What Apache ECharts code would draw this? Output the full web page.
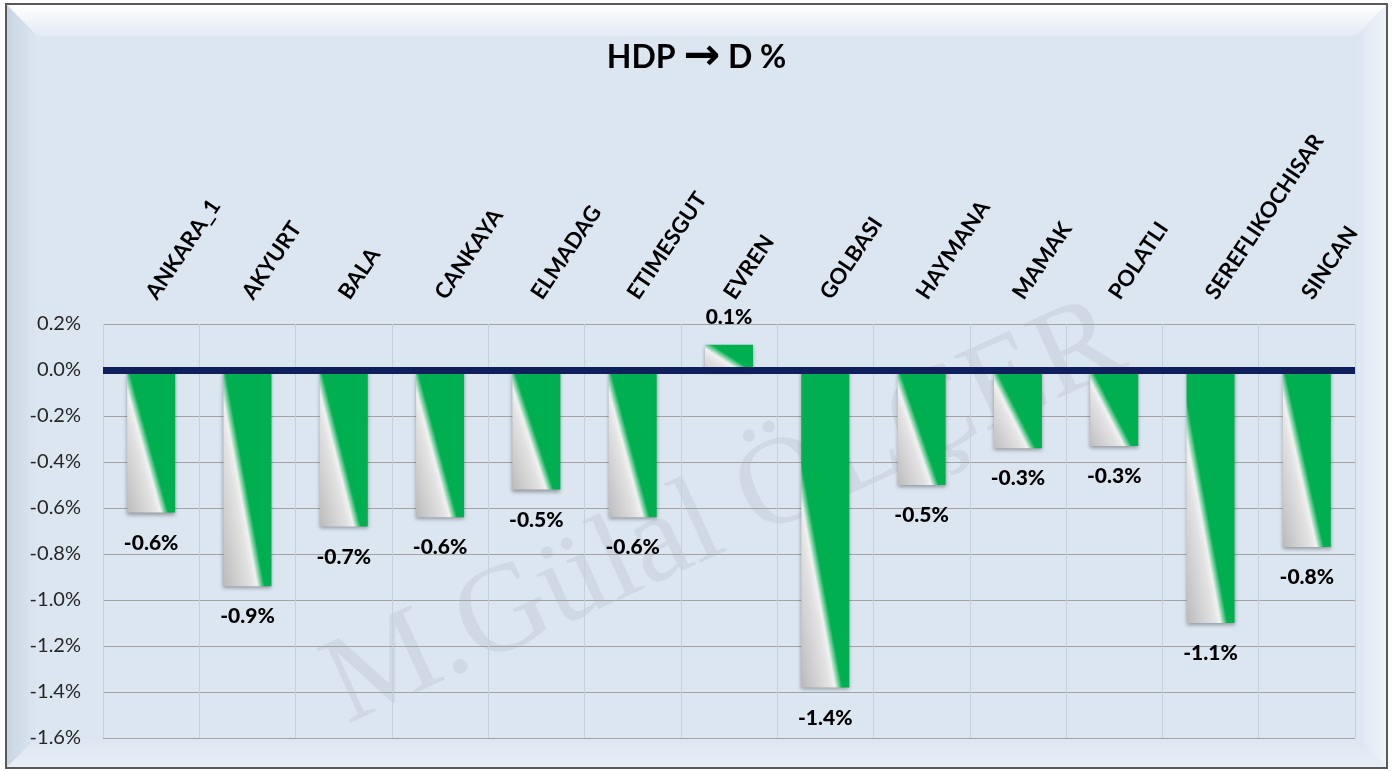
<!DOCTYPE html>
<html lang="tr" style="height: 100%">
<head>
    <meta charset="utf-8">
</head>
<body style="height: 100%; margin: 0; background: #fff">
<div id="container" style="width: 1393px; height: 771px"></div>

<script type="text/javascript" src="https://cdn.jsdelivr.net/npm/echarts@6/dist/echarts.min.js"></script>
<script type="text/javascript">
    // ilçeler ve HDP -> D oy kayması (%)
    var categories = ['ANKARA_1', 'AKYURT', 'BALA', 'CANKAYA', 'ELMADAG', 'ETIMESGUT', 'EVREN',
      'GOLBASI', 'HAYMANA', 'MAMAK', 'POLATLI', 'SEREFLIKOCHISAR', 'SINCAN'];
    var values = [-0.62, -0.94, -0.68, -0.64, -0.52, -0.64, 0.11, -1.38, -0.50, -0.34, -0.33, -1.10, -0.77];

    var yMin = -1.6, yMax = 0.2, yStep = 0.2;
    var FONT = 'Lato, "Noto Sans", sans-serif';

    var dom = document.getElementById('container');
    var myChart = echarts.init(dom, null, { renderer: 'canvas' });

    var gridTop = 324, gridBottom = 33, barW = 48;
    var plotH = 771 - gridTop - gridBottom;

    // gri -> yeşil geçişi: sol kenardaki A noktasından alt kenardaki B noktasına
    function barColor(v) {
      var h = Math.max(Math.abs(v) / (yMax - yMin) * plotH, 1);
      var w = barW;
      var ax = 0, ay = Math.max(h - 190, 0.12 * h);
      var bx = 0.72 * w, by = h;
      var nx = by - ay, ny = -(bx - ax);
      var len = Math.sqrt(nx * nx + ny * ny);
      nx /= len; ny /= len;
      var cx = (ax + bx) / 2, cy = (ay + by) / 2;
      var D = 32;
      return new echarts.graphic.LinearGradient(
        (cx - D * nx) / w, (cy - D * ny) / h,
        (cx + D * nx) / w, (cy + D * ny) / h, [
          { offset: 0, color: '#bdbdbd' },
          { offset: 0.4, color: '#e2e2e2' },
          { offset: 0.49, color: '#f1f1f1' },
          { offset: 0.6, color: '#00b050' },
          { offset: 1, color: '#00b050' }
        ]);
    }

    var seriesData = values.map(function (v) {
      return {
        value: v,
        itemStyle: { color: barColor(v) },
        label: { position: v < 0 ? 'bottom' : 'top', distance: v < 0 ? 20 : 17 }
      };
    });

    var option = {
      backgroundColor: '#ffffff',
      animation: false,
      title: {
        text: 'HDP {a|→} D %',
        left: 'center',
        top: 31,
        textStyle: {
          fontFamily: FONT, fontSize: 32, fontWeight: 'bold', color: '#000',
          rich: { a: { fontFamily: '"DejaVu Sans"', fontSize: 44, fontWeight: 'bold', color: '#000' } }
        }
      },
      graphic: [
        // çerçeve
        { type: 'rect', z: -100, shape: { x: 6, y: 4, width: 1381, height: 764 },
          style: { fill: '#dce6f1', stroke: '#5a5a5a', lineWidth: 2 } },
        { type: 'polygon', z: -99, shape: { points: [[7, 5], [1386, 5], [1356, 36], [37, 36]] },
          style: { fill: new echarts.graphic.LinearGradient(0, 0, 0, 1, [
            { offset: 0, color: '#ffffff' }, { offset: 1, color: '#e2eaf4' }]) } },
        { type: 'polygon', z: -99, shape: { points: [[7, 5], [37, 36], [37, 737], [7, 767]] },
          style: { fill: new echarts.graphic.LinearGradient(0, 0, 1, 0, [
            { offset: 0, color: '#c9d5e3' }, { offset: 1, color: '#dce6f1' }]) } },
        { type: 'polygon', z: -99, shape: { points: [[1386, 5], [1386, 767], [1356, 737], [1356, 36]] },
          style: { fill: new echarts.graphic.LinearGradient(0, 0, 1, 0, [
            { offset: 0, color: '#dce6f1' }, { offset: 1, color: '#eef3f9' }]) } },
        { type: 'polygon', z: -99, shape: { points: [[7, 767], [37, 737], [1356, 737], [1386, 767]] },
          style: { fill: new echarts.graphic.LinearGradient(0, 0, 0, 1, [
            { offset: 0, color: '#dce6f1' }, { offset: 1, color: '#e8eef6' }]) } },
        // filigran
        { type: 'text', z: -50, x: 725, y: 515, rotation: 0.43,
          style: { text: 'M.Gülal ÖLÇER', font: '125px "Liberation Serif", "DejaVu Serif", serif',
            fill: 'rgba(110,110,110,0.10)', align: 'center', verticalAlign: 'middle' } }
      ],
      grid: { left: 103, right: 38, top: gridTop, bottom: gridBottom, containLabel: false },
      xAxis: {
        type: 'category',
        position: 'top',
        data: categories,
        axisLine: { show: false },
        axisTick: { show: false },
        splitLine: { show: true, lineStyle: { color: '#c6cfda', width: 1 } },
        axisLabel: {
          interval: 0,
          rotate: 56,
          margin: 27,
          fontFamily: FONT,
          fontSize: 22,
          fontWeight: 'bold',
          color: '#000'
        }
      },
      yAxis: {
        type: 'value',
        min: yMin,
        max: yMax,
        interval: yStep,
        axisLine: { show: false },
        axisTick: { show: false },
        splitLine: { lineStyle: { color: '#a3a3a3', width: 1 } },
        axisLabel: {
          margin: 22,
          fontFamily: FONT,
          fontSize: 20,
          color: '#262626',
          formatter: function (v) { return v.toFixed(1) + '%'; }
        }
      },
      series: [
        {
          type: 'bar',
          data: seriesData,
          barWidth: barW,
          itemStyle: {
            shadowBlur: 4,
            shadowOffsetY: 2,
            shadowColor: 'rgba(0,0,0,0.35)'
          },
          label: {
            show: true,
            fontFamily: FONT,
            fontSize: 21,
            fontWeight: 900,
            color: '#000',
            formatter: function (p) { return (Math.round(p.value * 10) / 10).toFixed(1) + '%'; }
          },
          markLine: {
            silent: true,
            symbol: ['none', 'none'],
            label: { show: false },
            lineStyle: { color: '#0e1f5c', width: 7, type: 'solid' },
            data: [{ yAxis: 0 }]
          }
        }
      ]
    };

    myChart.setOption(option);
    window.addEventListener('resize', myChart.resize);
</script>
</body>
</html>
